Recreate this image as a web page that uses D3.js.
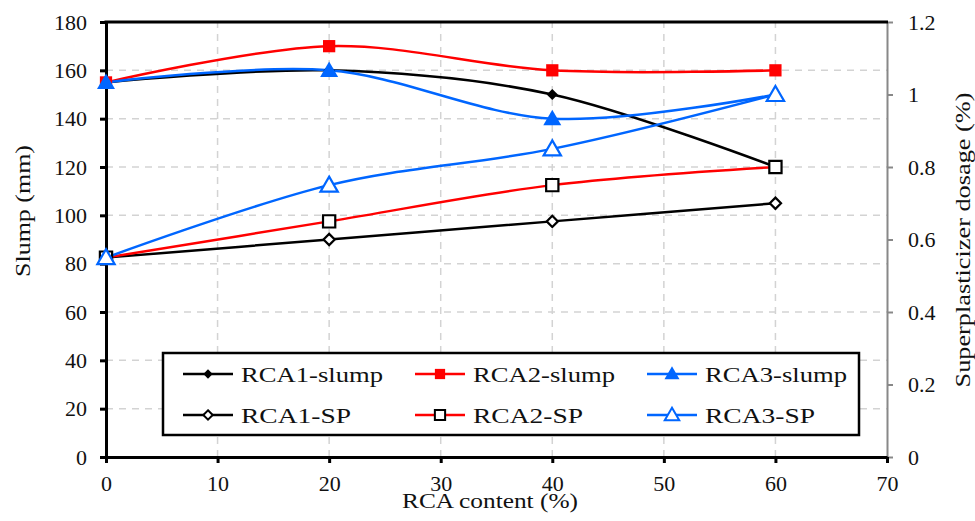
<!DOCTYPE html>
<html>
<head>
<meta charset="utf-8">
<script src="https://cdn.jsdelivr.net/npm/d3@7"></script>
<style>
  body { margin: 0; background: #fff; }
  svg { display: block; }
  svg text { font-family: "Liberation Serif", "Times New Roman", serif; fill: #111; }
</style>
</head>
<body>
<div id="chart"></div>
<script>
// RCA content (%)
const rcaContent = [0, 20, 40, 60];

// slump (mm), left axis
const rca1Slump = [155, 160, 150, 120];
const rca2Slump = [155, 170, 160, 160];
const rca3Slump = [155, 160, 140, 150];

// superplasticizer dosage (%), right axis
const rca1SP = [0.55, 0.60, 0.65, 0.70];
const rca2SP = [0.55, 0.65, 0.75, 0.80];
const rca3SP = [0.55, 0.75, 0.85, 1.00];

const xTicks = [0, 10, 20, 30, 40, 50, 60, 70];
const yTicks = [0, 20, 40, 60, 80, 100, 120, 140, 160, 180];
const y2Ticks = [0, 0.2, 0.4, 0.6, 0.8, 1, 1.2];

const width = 975, height = 521;
const margin = {top: 22, right: 88, bottom: 64, left: 106};

const svg = d3.select("#chart")
  .append("svg")
  .attr("width", width)
  .attr("height", height);

const x = d3.scaleLinear().domain([0, 70]).range([margin.left, width - margin.right]);
const y = d3.scaleLinear().domain([0, 180]).range([height - margin.bottom, margin.top]);
const y2 = d3.scaleLinear().domain([0, 1.2]).range([height - margin.bottom, margin.top]);

const red = "#ff0000", blue = "#0066ff";

// gridlines
svg.append("g")
  .selectAll("line")
  .data(yTicks.filter(d => d > 0 && d < 180))
  .join("line")
  .attr("x1", x(0)).attr("x2", x(70))
  .attr("y1", d => y(d)).attr("y2", d => y(d))
  .attr("stroke", "#d3d3d3")
  .attr("stroke-width", 1.5)
  .attr("stroke-dasharray", "7,6");

svg.append("g")
  .selectAll("line")
  .data(xTicks.filter(d => d > 0 && d < 70))
  .join("line")
  .attr("x1", d => x(d)).attr("x2", d => x(d))
  .attr("y1", y(0)).attr("y2", y(180))
  .attr("stroke", "#d3d3d3")
  .attr("stroke-width", 1.5)
  .attr("stroke-dasharray", "7,6");

// axes
const styleAxis = (g, color, w) => {
  g.attr("font-family", null).attr("font-size", null);
  g.select(".domain").attr("stroke", color).attr("stroke-width", w);
  g.selectAll(".tick line").attr("stroke", color).attr("stroke-width", w);
  g.selectAll(".tick text").attr("fill", "#111").style("font-size", "22px");
};

svg.append("g")
  .attr("transform", `translate(${x(70)},0)`)
  .call(d3.axisRight(y2).tickValues(y2Ticks).tickFormat(d => String(d)).tickSize(6).tickPadding(15).tickSizeOuter(0))
  .call(g => styleAxis(g, "#888", 2));

svg.append("line")
  .attr("x1", x(0) - 1.5).attr("x2", x(70) + 1)
  .attr("y1", y(180)).attr("y2", y(180))
  .attr("stroke", "#000").attr("stroke-width", 3);

svg.append("g")
  .attr("transform", `translate(0,${y(0)})`)
  .call(d3.axisBottom(x).tickValues(xTicks).tickSize(6).tickPadding(12).tickSizeOuter(0))
  .call(g => styleAxis(g, "#000", 3));

svg.append("g")
  .attr("transform", `translate(${x(0)},0)`)
  .call(d3.axisLeft(y).tickValues(yTicks).tickSize(6).tickPadding(13).tickSizeOuter(0))
  .call(g => styleAxis(g, "#000", 3));

// axis titles
svg.append("text")
  .attr("x", 490).attr("y", 508)
  .attr("text-anchor", "middle")
  .attr("textLength", 176).attr("lengthAdjust", "spacingAndGlyphs")
  .style("font-size", "21px")
  .text("RCA content (%)");

svg.append("text")
  .attr("transform", "translate(30,211) rotate(-90)")
  .attr("text-anchor", "middle")
  .attr("textLength", 132).attr("lengthAdjust", "spacingAndGlyphs")
  .style("font-size", "22px")
  .text("Slump (mm)");

svg.append("text")
  .attr("transform", "translate(970,240) rotate(-90)")
  .attr("text-anchor", "middle")
  .attr("textLength", 295).attr("lengthAdjust", "spacingAndGlyphs")
  .style("font-size", "22px")
  .text("Superplasticizer dosage (%)");

// series
const series = [
  {name: "RCA1-slump", values: rca1Slump, scale: y, color: "#000", symbol: d3.symbolDiamond2, size: 80, fill: "#000", stroke: "#000"},
  {name: "RCA2-slump", values: rca2Slump, scale: y, color: red, symbol: d3.symbolSquare, size: 150, fill: red, stroke: red},
  {name: "RCA3-slump", values: rca3Slump, scale: y, color: blue, symbol: d3.symbolTriangle, size: 140, fill: blue, stroke: blue},
  {name: "RCA1-SP", values: rca1SP, scale: y2, color: "#000", symbol: d3.symbolDiamond2, size: 80, fill: "#fff", stroke: "#000"},
  {name: "RCA2-SP", values: rca2SP, scale: y2, color: red, symbol: d3.symbolSquare, size: 150, fill: "#fff", stroke: "#000"},
  {name: "RCA3-SP", values: rca3SP, scale: y2, color: blue, symbol: d3.symbolTriangle, size: 130, fill: "#fff", stroke: blue}
];

const line = d3.line().curve(d3.curveCatmullRom.alpha(0));

series.forEach(s => {
  const pts = rcaContent.map((c, i) => [x(c), s.scale(s.values[i])]);
  svg.append("path")
    .attr("d", line(pts))
    .attr("fill", "none")
    .attr("stroke", s.color)
    .attr("stroke-width", 2.5);
});

series.forEach(s => {
  svg.append("g")
    .selectAll("path")
    .data(rcaContent.map((c, i) => [x(c), s.scale(s.values[i])]))
    .join("path")
    .attr("transform", d => `translate(${d[0]},${d[1] + (s.symbol === d3.symbolTriangle ? 1.5 : 0)})`)
    .attr("d", d3.symbol(s.symbol, s.size))
    .attr("fill", s.fill)
    .attr("stroke", s.stroke)
    .attr("stroke-width", s.fill === "#fff" ? 2.2 : 0);
});

// legend
svg.append("rect")
  .attr("x", 163).attr("y", 353)
  .attr("width", 696).attr("height", 82)
  .attr("fill", "#fff")
  .attr("stroke", "#000")
  .attr("stroke-width", 2.5);

const legCols = [183, 415, 647];
const legRows = [374, 415];
const legTextLen = {"RCA1-slump": 142, "RCA2-slump": 142, "RCA3-slump": 142, "RCA1-SP": 110, "RCA2-SP": 110, "RCA3-SP": 110};

series.forEach((s, i) => {
  const lx = legCols[i % 3], ly = legRows[Math.floor(i / 3)];
  const g = svg.append("g");
  g.append("line")
    .attr("x1", lx).attr("x2", lx + 50)
    .attr("y1", ly).attr("y2", ly)
    .attr("stroke", s.color).attr("stroke-width", 2.5);
  g.append("path")
    .attr("transform", `translate(${lx + 25},${ly + (s.symbol === d3.symbolTriangle ? 1 : 0)})`)
    .attr("d", d3.symbol(s.symbol, s.size * 0.7))
    .attr("fill", s.fill)
    .attr("stroke", s.stroke)
    .attr("stroke-width", s.fill === "#fff" ? 2 : 0);
  g.append("text")
    .attr("x", lx + 58).attr("y", ly)
    .attr("dy", "0.35em")
    .attr("textLength", legTextLen[s.name]).attr("lengthAdjust", "spacingAndGlyphs")
    .style("font-size", "22px")
    .text(s.name);
});
</script>
</body>
</html>
